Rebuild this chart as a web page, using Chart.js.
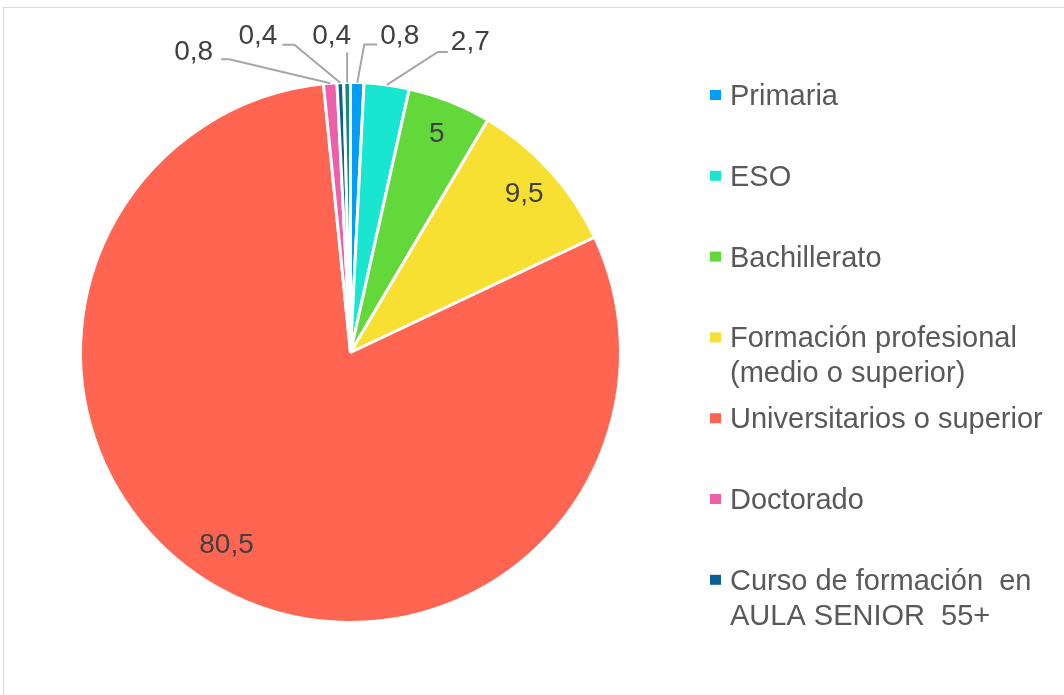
<!DOCTYPE html>
<html lang="es">
<head>
<meta charset="utf-8">
<title>Nivel de estudios</title>
<script src="https://cdn.jsdelivr.net/npm/chart.js@4.4.1/dist/chart.umd.min.js"></script>
<style>
  html, body { margin: 0; padding: 0; background: #fff; }
  #wrap { width: 1064px; height: 695px; }
</style>
</head>
<body>
<div id="wrap"><canvas id="pie" width="1064" height="695"></canvas></div>
<script>
// datos del gráfico (la última categoría no aparece en la leyenda original)
const categorias = [
  'Primaria',
  'ESO',
  'Bachillerato',
  ['Formación profesional', '(medio o superior)'],
  'Universitarios o superior',
  'Doctorado',
  ['Curso de formación  en', 'AULA SENIOR  55+'],
  'Otros'
];
const valores = [0.8, 2.7, 5, 9.5, 80.5, 0.8, 0.4, 0.4];
const colores = ['#009ff5', '#19e6d0', '#63d83a', '#f8e033', '#ff6550', '#ee5fa9', '#0b5f97', '#168a7c'];
const enLeyenda = 7;

const fuente = '"Liberation Sans", Arial, sans-serif';

// etiquetas fuera del sector: desplazamientos respecto al borde exterior del arco
const etiquetasFuera = {
  0: { codo: [7, -38],    fin: [20, -38],   align: 'left',  texto: [23, -46] },
  1: { codo: [51, -33],   fin: [61, -33],   align: 'left',  texto: [64, -43] },
  5: { codo: [-101, -24], fin: [-109, -24], align: 'right', texto: [-117, -31] },
  6: { codo: [-46, -38],  fin: [-58, -38],  align: 'right', texto: [-63, -46] },
  7: { codo: [0, -30],    fin: [0, -30],    align: 'right', texto: [4, -46] }
};
// etiquetas dentro: fracción del radio y pequeño giro opcional
const etiquetasDentro = { 4: { r: 0.85, giro: 0.056 } };

function formato(v) {
  return String(v).replace('.', ',');
}

// marco gris del gráfico original
const marco = {
  id: 'marco',
  beforeDraw(chart) {
    const ctx = chart.ctx;
    ctx.save();
    ctx.fillStyle = '#fff';
    ctx.fillRect(0, 0, chart.width, chart.height);
    ctx.strokeStyle = '#d9d9d9';
    ctx.lineWidth = 1;
    ctx.strokeRect(3.5, 7.5, chart.width + 10, chart.height + 10);
    ctx.restore();
  }
};

// etiquetas de datos con líneas guía
const etiquetas = {
  id: 'etiquetas',
  afterDatasetsDraw(chart) {
    const ctx = chart.ctx;
    const meta = chart.getDatasetMeta(0);
    ctx.save();
    ctx.font = '28px ' + fuente;
    ctx.fillStyle = '#404040';
    ctx.textBaseline = 'middle';
    meta.data.forEach((arc, i) => {
      const p = arc.getProps(['x', 'y', 'startAngle', 'endAngle', 'outerRadius'], true);
      const mid = (p.startAngle + p.endAngle) / 2;
      const txt = formato(valores[i]);
      const fuera = etiquetasFuera[i];
      if (fuera) {
        const ex = p.x + Math.cos(mid) * p.outerRadius;
        const ey = p.y + Math.sin(mid) * p.outerRadius;
        ctx.strokeStyle = '#a6a6a6';
        ctx.lineWidth = 2;
        ctx.beginPath();
        ctx.moveTo(ex, ey);
        ctx.lineTo(ex + fuera.codo[0], ey + fuera.codo[1]);
        ctx.lineTo(ex + fuera.fin[0], ey + fuera.fin[1]);
        ctx.stroke();
        ctx.textAlign = fuera.align;
        ctx.fillText(txt, ex + fuera.texto[0], ey + fuera.texto[1]);
      } else {
        const d = etiquetasDentro[i] || { r: 0.87, giro: 0 };
        const a = mid + d.giro;
        ctx.textAlign = 'center';
        ctx.fillText(txt, p.x + Math.cos(a) * p.outerRadius * d.r, p.y + Math.sin(a) * p.outerRadius * d.r);
      }
    });
    ctx.restore();
  }
};

// leyenda a la derecha, dibujada a mano para respetar el espaciado original
const leyenda = {
  id: 'leyenda',
  afterDraw(chart) {
    const ctx = chart.ctx;
    ctx.save();
    ctx.font = '29px ' + fuente;
    ctx.textBaseline = 'middle';
    ctx.textAlign = 'left';
    for (let i = 0; i < enLeyenda; i++) {
      const y = 95 + i * 80.8;
      ctx.fillStyle = colores[i];
      ctx.fillRect(710, y - 5, 11, 10);
      ctx.fillStyle = '#595959';
      const lineas = Array.isArray(categorias[i]) ? categorias[i] : [categorias[i]];
      lineas.forEach((l, k) => ctx.fillText(l, 730, y + 2 + k * 35));
    }
    ctx.restore();
  }
};

new Chart(document.getElementById('pie'), {
  type: 'pie',
  data: {
    labels: categorias,
    datasets: [{
      data: valores,
      backgroundColor: colores,
      borderColor: '#ffffff',
      borderWidth: 3
    }]
  },
  options: {
    responsive: false,
    animation: false,
    layout: {
      padding: { left: 79, top: 81, right: 442, bottom: 71 }
    },
    plugins: {
      legend: { display: false },
      tooltip: { enabled: false }
    }
  },
  plugins: [marco, etiquetas, leyenda]
});
</script>
</body>
</html>
